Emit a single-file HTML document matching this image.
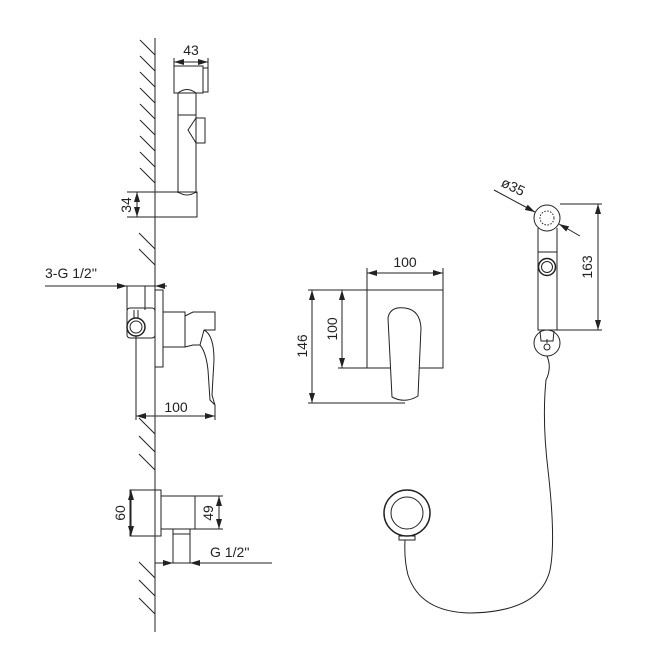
<!DOCTYPE html>
<html><head><meta charset="utf-8"><style>html,body{margin:0;padding:0;background:#fff}svg{display:block}</style></head>
<body>
<svg width="658" height="658" viewBox="0 0 658 658" xmlns="http://www.w3.org/2000/svg" font-family="Liberation Sans, sans-serif" fill="none" stroke="#222" stroke-width="1">
<defs>
<marker id="a" viewBox="0 0 10 6" refX="10" refY="3" markerWidth="10" markerHeight="6" orient="auto-start-reverse" markerUnits="userSpaceOnUse"><path d="M0,0 L10,3 L0,6 Z" fill="#222" stroke="none"/></marker>
</defs>
<!-- wall -->
<line x1="155" y1="38" x2="155" y2="632"/>
<g stroke-width="1">
<path d="M140,40 L155,55 M140,56 L155,71 M140,72 L155,87 M140,88 L155,103 M140,104 L155,119 M140,120 L155,135 M140,136 L155,151 M140,152 L155,167 M140,168 L155,183"/>
<path d="M139,233 L155,249 M139,249 L155,265"/>
<path d="M139,418 L155,434 M139,436 L155,452 M139,454 L155,470"/>
<path d="M139,562 L155,578 M139,580 L155,596 M139,598 L155,614"/>
</g>
<!-- top side hand shower -->
<rect x="174" y="66" width="29" height="27"/>
<rect x="203" y="68" width="5" height="24"/>
<path d="M178,93 Q187,86 196,93"/>
<path d="M178,93 L178,193 M196,93 L196,193 M178,115 L196,115"/>
<path d="M196,118 L188,130 L196,143"/>
<rect x="196" y="118" width="9" height="25"/>
<path d="M155,192 L197,192 L197,217 L155,217"/>
<path d="M178,192 Q187,198 196,192"/>
<line x1="174" y1="66" x2="174" y2="58"/><line x1="208" y1="68" x2="208" y2="58"/>
<line x1="174" y1="62" x2="208" y2="62" marker-start="url(#a)" marker-end="url(#a)"/>
<text x="191" y="55" font-size="14" fill="#222" stroke="none" text-anchor="middle">43</text>
<line x1="127" y1="192" x2="155" y2="192"/><line x1="127" y1="217" x2="155" y2="217"/>
<line x1="137" y1="192" x2="137" y2="217" marker-start="url(#a)" marker-end="url(#a)"/>
<text transform="translate(131,205) rotate(-90)" font-size="14" fill="#222" stroke="none" text-anchor="middle">34</text>
<!-- mixer side -->
<text x="45" y="278" font-size="14" fill="#222" stroke="none">3-G 1/2''</text>
<line x1="45" y1="286" x2="127" y2="286" marker-end="url(#a)"/>
<line x1="167" y1="286" x2="155" y2="286" marker-end="url(#a)"/>
<line x1="127" y1="286" x2="155" y2="286"/>
<line x1="127" y1="286" x2="127" y2="310"/><line x1="145" y1="286" x2="145" y2="310"/>
<rect x="155" y="290" width="8" height="77"/>
<rect x="127" y="308" width="28" height="30" rx="3"/>
<circle cx="136" cy="327" r="9" stroke-width="1.5"/><circle cx="136" cy="327" r="6"/>
<line x1="134" y1="310" x2="134" y2="318"/><line x1="138" y1="310" x2="138" y2="318"/>
<rect x="163" y="312" width="22" height="35"/>
<path d="M185,316 L193,312 L215,312 L215,330 L204,330 L200,345 L193,345 L185,347"/>
<path d="M204,330 Q214,335 214,360 L212,395 Q214,402 215,405 L210,400 L208,370 Q206,352 200,345"/>
<line x1="136" y1="336" x2="136" y2="420"/><line x1="215" y1="405" x2="215" y2="420"/>
<line x1="136" y1="416" x2="215" y2="416" marker-start="url(#a)" marker-end="url(#a)"/>
<text x="176" y="412" font-size="14" fill="#222" stroke="none" text-anchor="middle">100</text>
<!-- bottom fitting -->
<rect x="130" y="490" width="31" height="46"/>
<rect x="161" y="496" width="34" height="33"/>
<rect x="173" y="529" width="17" height="5"/>
<rect x="173" y="534" width="17" height="29"/>
<line x1="131" y1="490" x2="131" y2="536" marker-start="url(#a)" marker-end="url(#a)"/>
<text transform="translate(125,513) rotate(-90)" font-size="14" fill="#222" stroke="none" text-anchor="middle">60</text>
<line x1="195" y1="496" x2="223" y2="496"/><line x1="195" y1="529" x2="223" y2="529"/>
<line x1="219" y1="496" x2="219" y2="529" marker-start="url(#a)" marker-end="url(#a)"/>
<text transform="translate(213,513) rotate(-90)" font-size="14" fill="#222" stroke="none" text-anchor="middle">49</text>
<line x1="155" y1="563" x2="173" y2="563" marker-end="url(#a)"/>
<line x1="272" y1="563" x2="190" y2="563" marker-end="url(#a)"/>
<text x="210" y="557" font-size="14" fill="#222" stroke="none">G 1/2''</text>
<!-- front mixer -->
<rect x="367" y="290" width="76" height="78"/>
<path d="M388,318 Q390,306 405,308 Q420,310 421,328 L418,396 Q405,404 392,397 Z" fill="#fff"/>
<line x1="367" y1="290" x2="367" y2="268"/><line x1="443" y1="290" x2="443" y2="268"/>
<line x1="367" y1="273" x2="443" y2="273" marker-start="url(#a)" marker-end="url(#a)"/>
<text x="405" y="267" font-size="14" fill="#222" stroke="none" text-anchor="middle">100</text>
<line x1="308" y1="290" x2="367" y2="290"/><line x1="338" y1="368" x2="367" y2="368"/>
<line x1="308" y1="403" x2="405" y2="403"/>
<line x1="342" y1="290" x2="342" y2="368" marker-start="url(#a)" marker-end="url(#a)"/>
<line x1="312" y1="290" x2="312" y2="403" marker-start="url(#a)" marker-end="url(#a)"/>
<text transform="translate(337,329) rotate(-90)" font-size="14" fill="#222" stroke="none" text-anchor="middle">100</text>
<text transform="translate(307,346) rotate(-90)" font-size="14" fill="#222" stroke="none" text-anchor="middle">146</text>
<!-- front hand shower -->
<circle cx="547" cy="218" r="13"/>
<circle cx="547" cy="218" r="7" stroke-dasharray="1.5,1.5"/>
<path d="M538,228 L538,330 L557,330 L557,228"/>
<line x1="538" y1="252" x2="557" y2="252"/>
<circle cx="547" cy="267" r="8.5" stroke-width="1.5"/><circle cx="547" cy="267" r="5.5"/>
<circle cx="547" cy="343" r="13"/>
<path d="M540,331 L541,341 L553,341 L554,331"/>
<circle cx="547" cy="347" r="3"/>
<line x1="547" y1="339" x2="547" y2="343"/>
<line x1="560" y1="204" x2="602" y2="204"/><line x1="557" y1="330" x2="602" y2="330"/>
<line x1="598" y1="204" x2="598" y2="330" marker-start="url(#a)" marker-end="url(#a)"/>
<text transform="translate(592,267) rotate(-90)" font-size="14" fill="#222" stroke="none" text-anchor="middle">163</text>
<line x1="494" y1="190" x2="535" y2="212" marker-end="url(#a)"/>
<line x1="580" y1="236" x2="559" y2="224" marker-end="url(#a)"/>
<text transform="translate(511,191) rotate(26)" font-size="14" fill="#222" stroke="none" text-anchor="middle">ø35</text>
<!-- hose -->
<path d="M547,356 Q552,368 546,380 Q542,420 548,470 Q556,540 550,570 Q540,612 470,613 Q420,612 408,575 Q404,560 405,540" stroke-width="1"/>
<circle cx="407" cy="513" r="23" stroke-width="1.5"/>
<circle cx="407" cy="513" r="16"/>
<rect x="399" y="536" width="16" height="4"/>
</svg>
</body></html>
